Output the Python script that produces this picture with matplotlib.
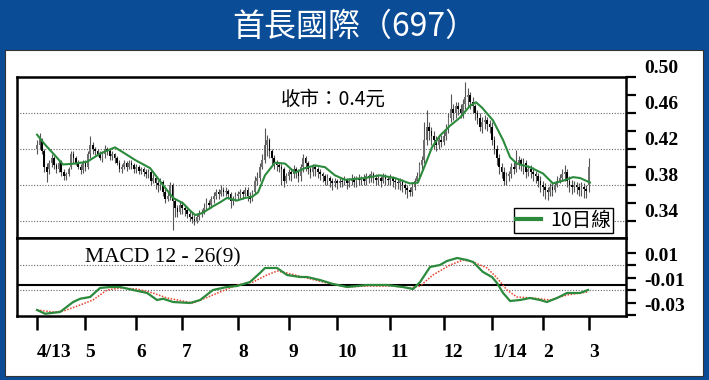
import numpy as np
import matplotlib.pyplot as plt
import matplotlib.patches as patches

# ---- data (price in thousandths of HK$) ----
opens = [420,425,430,418,400,398,405,410,402,398,
         405,395,390,393,400,415,410,405,400,397,
         405,400,415,425,420,418,415,410,415,420,
         418,412,415,410,405,398,400,405,400,405,
         402,398,400,396,398,395,392,395,385,388,
         382,380,384,372,365,368,380,362,355,350,
         358,355,352,348,345,343,340,345,348,350,
         355,360,358,365,368,372,370,375,372,374,
         370,362,365,368,370,372,370,375,368,365,
         372,385,388,400,408,425,430,418,410,405,
         402,400,398,385,390,395,392,398,395,390,
         400,410,405,398,395,400,398,395,392,390,
         385,388,385,383,385,382,385,384,386,383,
         385,387,384,388,386,388,385,390,388,392,
         388,386,388,385,390,387,386,388,385,384,
         382,385,380,377,375,372,378,385,390,402,
         408,430,445,440,435,430,425,430,428,435,
         442,455,465,460,468,465,460,470,478,480,
         472,468,460,455,445,450,452,448,445,430,
         420,410,400,395,385,390,392,400,398,405,
         408,402,405,395,398,395,392,390,385,380,
         378,375,372,378,375,380,385,388,392,395,
         385,380,378,380,378,375,378,376,380]
closes = [425,432,418,400,395,405,410,402,398,405,
          395,390,393,398,415,410,405,400,397,405,
          400,415,425,420,418,415,410,415,420,418,
          412,415,410,405,398,400,405,400,405,402,
          398,400,396,398,395,392,395,385,388,382,
          380,384,372,365,368,380,362,355,350,358,
          355,352,348,345,343,340,345,348,350,355,
          360,358,365,368,372,370,375,372,374,370,
          362,365,368,370,372,370,375,368,365,372,
          385,388,400,408,425,430,418,410,405,402,
          400,398,385,390,395,392,398,395,390,400,
          410,405,398,395,400,398,395,392,390,385,
          388,385,383,385,382,385,384,386,383,385,
          387,384,388,386,388,385,390,388,392,388,
          386,388,385,390,387,386,388,385,384,382,
          385,380,377,375,372,378,385,390,402,408,
          430,445,440,435,430,425,430,428,435,442,
          455,465,460,468,465,460,470,478,480,472,
          468,460,455,445,450,452,448,445,430,420,
          410,400,395,385,390,392,400,398,405,408,
          402,405,395,398,395,392,390,385,380,378,
          375,372,378,375,380,385,388,392,395,385,
          380,378,380,378,375,378,376,374,400]
highs = [430,438,432,420,405,408,415,412,405,408,
         408,398,395,400,418,418,412,408,403,408,
         408,418,435,428,422,420,418,418,425,422,
         420,418,416,412,408,403,408,407,408,408,
         405,403,402,400,400,398,398,397,392,390,
         386,388,386,376,372,384,382,366,358,362,
         362,358,355,352,350,347,348,352,354,360,
         366,364,368,372,376,376,380,378,378,376,
         372,368,372,374,376,375,378,378,372,375,
         390,395,405,415,444,436,432,420,413,408,
         405,403,400,394,398,398,402,400,398,404,
         415,412,407,400,404,402,400,398,395,392,
         392,390,388,388,387,388,388,390,388,388,
         392,390,390,392,390,392,394,393,396,395,
         392,392,390,394,393,390,392,390,388,387,
         388,387,383,380,378,382,388,395,406,412,
         450,463,450,445,440,435,434,436,440,448,
         460,481,470,472,472,470,476,494,488,483,
         478,470,463,460,456,458,456,452,450,435,
         425,415,405,400,395,396,405,406,419,412,
         410,410,408,402,402,400,396,394,390,385,
         382,378,382,382,384,390,392,398,402,398,
         390,386,385,384,382,384,382,380,410]
lows = [415,420,415,395,384,392,400,398,394,395,
        390,386,386,390,398,405,402,398,393,394,
        396,398,410,415,414,412,408,406,410,413,
        408,408,405,402,395,394,398,396,398,398,
        394,394,392,392,390,388,388,380,382,376,
        372,375,368,360,362,364,330,345,345,348,
        348,346,344,340,338,336,338,342,345,348,
        352,354,355,360,365,365,368,368,368,365,
        355,358,362,364,366,365,368,362,360,362,
        370,380,385,398,405,412,410,402,398,396,
        395,380,378,382,386,385,388,388,384,385,
        395,396,392,388,390,390,388,386,384,380,
        380,378,375,378,376,378,378,380,376,378,
        380,378,378,380,380,380,380,382,384,382,
        380,380,378,382,380,380,380,378,376,376,
        375,372,370,366,368,368,375,382,388,398,
        405,425,430,425,420,418,420,422,425,430,
        438,450,452,455,458,455,455,465,468,465,
        460,452,448,440,438,442,440,438,425,415,
        402,392,388,380,380,385,388,392,395,398,
        396,392,388,390,388,385,383,378,372,368,
        365,364,368,368,372,378,382,385,385,378,
        372,370,372,370,368,368,366,366,372]

# 10-day average (trading-day index, price)
ma_day = [0, 3.3, 7.4, 10.7, 15.7, 20.7, 26, 32.2, 36.4, 40.5, 46.7, 52.1, 56.2,
          60.3, 63.2, 65.3, 68.2, 72.3, 75.6, 78.5, 82.6, 86, 88.8, 91.3, 94.2,
          98.3, 102.5, 106.6, 110.7, 114.9, 119, 123.1, 127.3, 131.4, 135.5,
          141.7, 147.9, 154.1, 157.4, 160.3, 163.2, 166.5, 170.7, 174.8, 178.9,
          181.4, 183.9, 188.4, 192.6, 195.5, 198.3, 203.7, 209.1, 213.2, 217.4,
          221.5, 224.4, 228.5]
ma_val = [0.436, 0.425, 0.413, 0.403, 0.404, 0.406, 0.415, 0.422, 0.415, 0.408,
          0.399, 0.380, 0.366, 0.360, 0.352, 0.347, 0.349, 0.356, 0.361, 0.366,
          0.363, 0.366, 0.367, 0.372, 0.391, 0.405, 0.404, 0.394, 0.399, 0.402,
          0.400, 0.391, 0.386, 0.387, 0.388, 0.391, 0.388, 0.382, 0.383, 0.402,
          0.422, 0.435, 0.446, 0.455, 0.468, 0.472, 0.466, 0.452, 0.430, 0.411,
          0.404, 0.400, 0.393, 0.382, 0.385, 0.389, 0.388, 0.383]

# MACD line and signal line (trading-day index, value)
macd_day = [0, 3.3, 9.5, 14.9, 17.8, 21.9, 26, 30.2, 34.3, 39.7, 45.5, 49.6,
            52.1, 56.2, 63.2, 67.4, 72.7, 78.5, 82.6, 88, 92.1, 94.2, 99.2, 103.3,
            108.7, 111.6, 116.9, 122.3, 128.1, 136.4, 144.6, 151.2, 155.4, 158.3,
            162.4, 166.5, 169.4, 173.6, 177.7, 180.2, 184.3, 188, 190.1, 192.6,
            195.5, 199.6, 203.7, 207.9, 210.7, 214.9, 219, 224.4, 227.7]
macd_val = [-0.026, -0.029, -0.0276, -0.0196, -0.017, -0.0156, -0.0084, -0.0076,
            -0.0076, -0.010, -0.0124, -0.018, -0.017, -0.0196, -0.0204, -0.018,
            -0.010, -0.0076, -0.0068, -0.0036, 0.0036, 0.0076, 0.0076, 0.002,
            0.0004, 0.0004, -0.002, -0.0052, -0.0076, -0.006, -0.006, -0.0076,
            -0.0092, -0.0036, 0.0084, 0.010, 0.0132, 0.0156, 0.014, 0.0124,
            0.0044, 0.0004, -0.0044, -0.0124, -0.0188, -0.018, -0.0164, -0.018,
            -0.0196, -0.0164, -0.0124, -0.0124, -0.010]
sig_day = [0, 6.6, 10.7, 17.8, 23.1, 28.9, 34.3, 41.3, 47.9, 53.7, 64.5, 70.2,
           75.6, 82.6, 89.3, 95, 99.2, 103.3, 109.9, 119.8, 128.1, 136.4, 147.1,
           154.1, 158.3, 163.6, 170.7, 176, 180.2, 186, 190.1, 194.2, 198.3, 205,
           212, 219, 227.3]
sig_val = [-0.026, -0.0276, -0.027, -0.022, -0.018, -0.010, -0.0084, -0.0092,
           -0.0124, -0.0164, -0.0204, -0.016, -0.0116, -0.006, -0.0036, 0.002,
           0.0052, 0.0036, 0.0004, -0.0044, -0.0076, -0.0068, -0.0068, -0.0084,
           -0.0068, 0.002, 0.010, 0.014, 0.0124, 0.0076, -0.0004, -0.010, -0.0156,
           -0.0164, -0.018, -0.014, -0.0116]
macd_base = -0.0056

month_pos = [0, 20, 41, 60, 83, 104, 124, 146, 168, 188, 209, 228]
month_lbl = ['4/13', '5', '6', '7', '8', '9', '10', '11', '12', '1/14', '2', '3']

BLUE = '#0b4c96'
GREEN = '#2b8a3c'
RED = '#e5402a'
CJK = ['Noto Sans CJK TC', 'DejaVu Sans']

o = np.array(opens) / 1000
c = np.array(closes) / 1000
h = np.array(highs) / 1000
l = np.array(lows) / 1000
x = np.arange(len(c))

W, H = 709, 380
fig = plt.figure(figsize=(W / 100, H / 100), dpi=100, facecolor=BLUE)

# white panel behind the axes
fig.patches.append(patches.Rectangle((5 / W, 4 / H), 698 / W, 326 / H,
                                     transform=fig.transFigure, facecolor='white',
                                     edgecolor='#333333', lw=0.8, zorder=-5))
fig.text(0.5, 1 - 27 / H, '首長國際（697）', color='white', ha='center', va='center',
         fontsize=23, family=CJK)

ax1 = fig.add_axes([17 / W, (H - 238) / H, 609 / W, 161 / H])
ax2 = fig.add_axes([17 / W, (H - 316) / H, 609 / W, 78 / H], sharex=ax1)

serif = {'family': 'Liberation Serif', 'weight': 'bold', 'size': 14}

# candlesticks
up = c >= o
body_lo = np.minimum(o, c)
body_h = np.maximum(np.abs(c - o), 0.0012)
ax1.vlines(x, l, h, color='#555555', lw=0.8, zorder=2)
ax1.bar(x[up], body_h[up], bottom=body_lo[up], width=0.7, color='#6e6e6e', lw=0, zorder=3)
ax1.bar(x[~up], body_h[~up], bottom=body_lo[~up], width=0.7, color='black', lw=0, zorder=3)
ax1.plot(ma_day, ma_val, color=GREEN, lw=1.5, zorder=4)

ax1.set_xlim(-8.3, 243.4)
ax1.set_ylim(0.3215, 0.4992)
for yv in [0.34, 0.38, 0.42, 0.46]:
    ax1.axhline(yv, color='#666666', lw=0.8, ls=(0, (1, 1.5)), zorder=1)

ax1.text(333, H - 99, '收市：0.4元', transform=None, fontsize=14, ha='center',
         va='center', family=CJK)

# legend box
ax1.legend([plt.Line2D([], [], color=GREEN, lw=3)], ['10日線'], loc='lower right',
           bbox_to_anchor=(0.979, 0.031), frameon=True, fancybox=False, framealpha=1,
           edgecolor='black', handlelength=1.3, borderpad=0.1, handletextpad=0.5,
           borderaxespad=0, prop={'family': CJK, 'size': 14})

# MACD
ax2.axhline(macd_base, color='black', lw=1.5, zorder=2)
for yv in [0.01, -0.01]:
    ax2.axhline(yv, color='#666666', lw=0.8, ls=(0, (1, 1.5)), zorder=1)
ax2.plot(sig_day, sig_val, color=RED, lw=1.1, ls=(0, (1, 1)), zorder=3)
ax2.plot(macd_day, macd_val, color=GREEN, lw=1.6, zorder=4)
ax2.set_ylim(-0.0308, 0.0316)
ax2.text(85, H - 258, 'MACD 12 - 26(9)', transform=None, fontsize=15.5, va='center',
         family='Liberation Serif')

for ax in (ax1, ax2):
    for s in ax.spines.values():
        s.set_linewidth(1.8)
    ax.yaxis.tick_right()
    ax.tick_params(axis='y', direction='out', length=7, width=1.6, pad=6)
    ax.tick_params(axis='y', which='minor', direction='out', length=7, width=1.6)

ax1.set_yticks([0.34, 0.38, 0.42, 0.46, 0.50])
ax1.set_yticklabels(['0.34', '0.38', '0.42', '0.46', '0.50'], fontdict=serif)
ax1.set_yticks([0.36, 0.40, 0.44, 0.48], minor=True)
ax2.set_yticks([0.01, -0.01, -0.03])
ax2.set_yticklabels(['0.01', '-0.01', '-0.03'], fontdict=serif)
ax2.set_yticks([0.02, 0.0, -0.02], minor=True)
for ax in (ax1, ax2):
    for t in ax.get_yticklabels():
        t.set_va('bottom')

ax1.tick_params(axis='x', bottom=False, labelbottom=False)
ax2.set_xticks(month_pos)
ax2.set_xticklabels(month_lbl, fontdict=serif, ha='left')
ax2.tick_params(axis='x', direction='out', length=10, width=1.8, pad=10)

fig.savefig('out.png', dpi=100, facecolor=BLUE)
